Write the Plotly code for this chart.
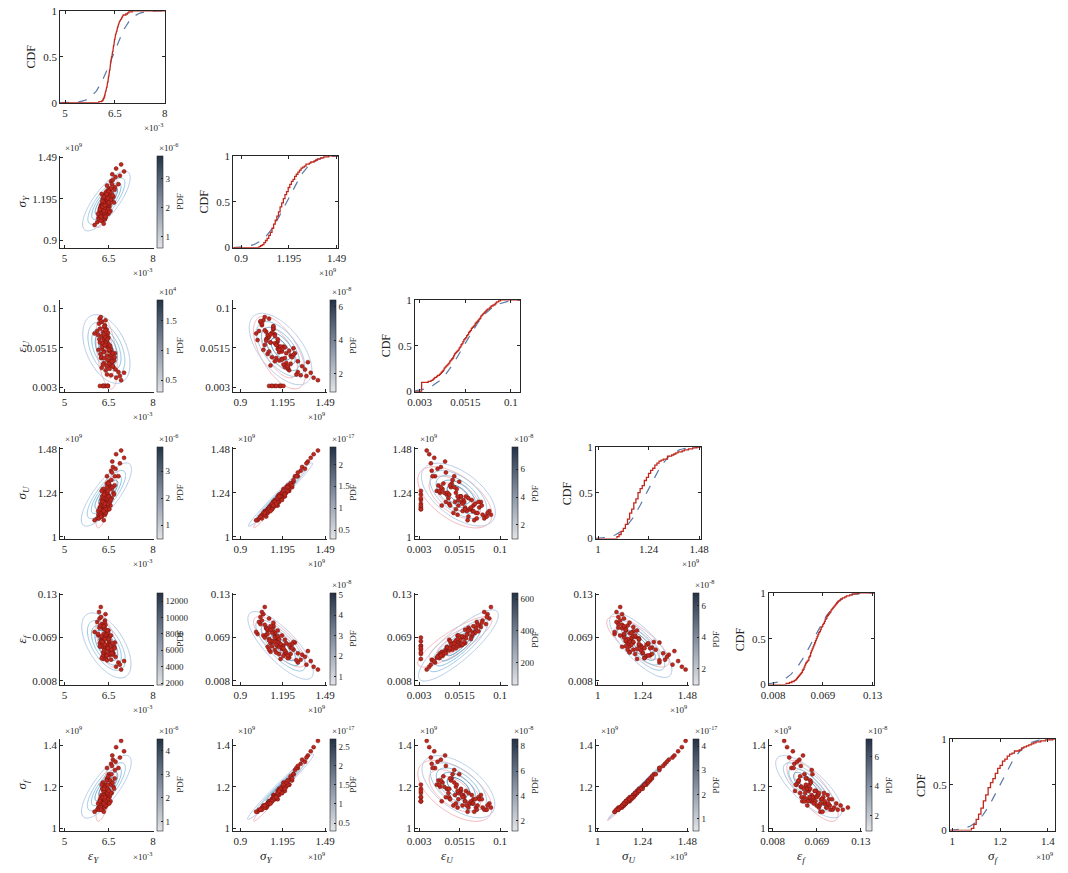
import math
import numpy as np
import plotly.graph_objects as go

W, H = 1068, 873
FONT = "Liberation Serif"
INK = "#262626"

# ---------------- sample data (scaled units) ----------------
eps_Y = [6.31, 6.52, 6.20, 6.44, 6.66, 6.27, 6.38, 6.49, 6.15, 6.58,
         6.35, 6.42, 6.24, 6.71, 6.33, 6.47, 6.56, 6.19, 6.40, 6.62,
         6.29, 6.45, 6.36, 6.11, 6.53, 6.30, 6.83, 6.41, 6.22, 6.50,
         6.37, 6.60, 6.26, 6.46, 6.34, 6.75, 6.18, 6.43, 6.55, 6.28,
         6.39, 6.64, 6.32, 6.48, 6.02, 6.57, 6.25, 6.44, 6.35, 6.68,
         6.21, 6.51, 6.38, 6.30, 6.92, 6.42, 6.17, 6.59, 6.33, 6.47,
         6.26, 6.54, 6.37, 6.73, 6.23, 6.45, 6.31, 6.63, 6.40, 6.14,
         6.49, 6.36, 7.02, 6.28, 6.52, 6.34, 6.46, 6.20, 6.61, 6.39,
         6.57, 6.29, 6.43, 6.70, 6.24, 6.50, 6.33, 6.47, 6.88, 6.37]   # x10^-3
sig_Y = [1.08, 1.14, 1.11, 1.25, 1.21, 1.04, 1.17, 1.09, 1.06, 1.32,
         1.13, 1.20, 1.15, 1.28, 1.02, 1.18, 1.11, 1.10, 1.24, 1.37,
         1.07, 1.14, 1.19, 1.03, 1.23, 1.12, 1.30, 1.16, 1.09, 1.27,
         1.05, 1.19, 1.14, 1.10, 1.22, 1.41, 1.08, 1.13, 1.26, 1.16,
         1.06, 1.33, 1.18, 1.15, 1.01, 1.24, 1.12, 1.29, 1.09, 1.17,
         1.13, 1.21, 1.14, 1.20, 1.44, 1.08, 1.05, 1.27, 1.17, 1.12,
         1.23, 1.16, 1.10, 1.35, 1.07, 1.19, 1.15, 1.22, 1.11, 1.09,
         1.25, 1.13, 1.39, 1.18, 1.10, 1.21, 1.16, 1.12, 1.30, 1.07,
         1.19, 1.14, 1.23, 1.26, 1.04, 1.17, 1.11, 1.20, 1.36, 1.15]   # x10^9
eps_U = [0.071, 0.035, 0.058, 0.042, 0.028, 0.083, 0.005, 0.064, 0.049, 0.018,
         0.077, 0.053, 0.039, 0.045, 0.061, 0.005, 0.030, 0.087, 0.024, 0.034,
         0.055, 0.068, 0.047, 0.072, 0.026, 0.005, 0.022, 0.059, 0.044, 0.051,
         0.079, 0.038, 0.066, 0.005, 0.033, 0.015, 0.062, 0.074, 0.041, 0.050,
         0.085, 0.029, 0.005, 0.056, 0.069, 0.048, 0.040, 0.019, 0.063, 0.036,
         0.075, 0.052, 0.005, 0.031, 0.012, 0.060, 0.081, 0.043, 0.046, 0.070,
         0.027, 0.054, 0.065, 0.025, 0.089, 0.037, 0.005, 0.045, 0.058, 0.067,
         0.032, 0.078, 0.021, 0.053, 0.047, 0.039, 0.062, 0.005, 0.035, 0.073,
         0.050, 0.057, 0.029, 0.040, 0.084, 0.049, 0.068, 0.005, 0.017, 0.055]
sig_U = [1.13, 1.19, 1.16, 1.29, 1.24, 1.11, 1.20, 1.15, 1.12, 1.36,
         1.19, 1.22, 1.18, 1.33, 1.09, 1.23, 1.17, 1.14, 1.25, 1.41,
         1.14, 1.17, 1.24, 1.10, 1.28, 1.15, 1.33, 1.22, 1.13, 1.30,
         1.12, 1.21, 1.20, 1.16, 1.24, 1.45, 1.11, 1.19, 1.27, 1.17,
         1.13, 1.38, 1.21, 1.20, 1.09, 1.26, 1.17, 1.33, 1.15, 1.23,
         1.16, 1.22, 1.18, 1.26, 1.47, 1.14, 1.10, 1.31, 1.19, 1.18,
         1.25, 1.19, 1.16, 1.37, 1.12, 1.24, 1.17, 1.27, 1.15, 1.14,
         1.29, 1.17, 1.43, 1.22, 1.15, 1.23, 1.21, 1.15, 1.35, 1.13,
         1.20, 1.19, 1.27, 1.28, 1.11, 1.22, 1.14, 1.25, 1.40, 1.18]   # x10^9
eps_f = [0.082, 0.052, 0.061, 0.055, 0.047, 0.088, 0.046, 0.079, 0.072, 0.038,
         0.084, 0.058, 0.066, 0.062, 0.074, 0.058, 0.049, 0.096, 0.041, 0.050,
         0.069, 0.075, 0.054, 0.091, 0.044, 0.064, 0.034, 0.068, 0.056, 0.063,
         0.093, 0.053, 0.071, 0.052, 0.048, 0.028, 0.083, 0.078, 0.060, 0.057,
         0.102, 0.045, 0.039, 0.070, 0.077, 0.059, 0.064, 0.037, 0.081, 0.056,
         0.086, 0.066, 0.069, 0.043, 0.024, 0.073, 0.105, 0.052, 0.062, 0.076,
         0.040, 0.071, 0.067, 0.042, 0.112, 0.055, 0.048, 0.061, 0.080, 0.074,
         0.046, 0.090, 0.036, 0.060, 0.065, 0.051, 0.079, 0.057, 0.047, 0.087,
         0.072, 0.063, 0.044, 0.054, 0.098, 0.067, 0.085, 0.054, 0.031, 0.059]
sig_f = [1.10, 1.15, 1.13, 1.24, 1.20, 1.09, 1.17, 1.12, 1.10, 1.31,
         1.16, 1.18, 1.15, 1.28, 1.08, 1.19, 1.13, 1.12, 1.21, 1.35,
         1.11, 1.14, 1.20, 1.09, 1.23, 1.13, 1.29, 1.18, 1.11, 1.26,
         1.10, 1.17, 1.16, 1.13, 1.20, 1.39, 1.10, 1.15, 1.23, 1.14,
         1.11, 1.33, 1.18, 1.16, 1.08, 1.21, 1.14, 1.29, 1.12, 1.19,
         1.14, 1.18, 1.15, 1.22, 1.42, 1.11, 1.09, 1.26, 1.16, 1.14,
         1.21, 1.16, 1.13, 1.32, 1.10, 1.19, 1.15, 1.22, 1.13, 1.12,
         1.25, 1.14, 1.37, 1.19, 1.12, 1.19, 1.17, 1.13, 1.30, 1.11,
         1.17, 1.15, 1.23, 1.24, 1.09, 1.18, 1.12, 1.21, 1.34, 1.15]   # x10^9

var_names = ['<i>ε</i><sub><i>Y</i></sub>', '<i>σ</i><sub><i>Y</i></sub>',
             '<i>ε</i><sub><i>U</i></sub>', '<i>σ</i><sub><i>U</i></sub>',
             '<i>ε</i><sub><i>f</i></sub>', '<i>σ</i><sub><i>f</i></sub>']
var_exp = ['×10<sup>-3</sup>', '×10<sup>9</sup>', '', '×10<sup>9</sup>', '', '×10<sup>9</sup>']
axis_lo = [4.85, 0.85, -0.002, 0.99, 0.003, 0.99]
axis_hi = [8.02, 1.50, 0.110, 1.49, 0.132, 1.43]
tick_vals = [[5, 6.5, 8], [0.9, 1.195, 1.49], [0.003, 0.0515, 0.1],
             [1, 1.24, 1.48], [0.008, 0.069, 0.13], [1, 1.2, 1.4]]
tick_text = [['5', '6.5', '8'], ['0.9', '1.195', '1.49'], ['0.003', '0.0515', '0.1'],
             ['1', '1.24', '1.48'], ['0.008', '0.069', '0.13'], ['1', '1.2', '1.4']]
# fitted (model) marginal parameters, read from the dashed CDFs
model_mean = [6.42, 1.18, 0.050, 1.23, 0.058, 1.20]
model_std = [0.42, 0.11, 0.022, 0.085, 0.023, 0.075]

# colour bars of the joint PDFs, panels in row-major order of the lower triangle
pdf_lo = [0.6, 0.3, 0.9, 0.5, 0.3, 1.0, 1800, 0.6, 60, 1.0, 0.6, 0.3, 1.2, 0.5, 1.0]
pdf_hi = [3.8, 1.85, 6.4, 3.9, 2.4, 7.6, 13000, 5.1, 640, 6.8, 4.5, 2.7, 8.6, 4.3, 7.2]
pdf_exp = ['×10<sup>-6</sup>', '×10<sup>4</sup>', '×10<sup>-8</sup>', '×10<sup>-6</sup>',
           '×10<sup>-17</sup>', '×10<sup>-8</sup>', '', '×10<sup>-8</sup>', '',
           '×10<sup>-8</sup>', '×10<sup>-6</sup>', '×10<sup>-17</sup>', '×10<sup>-8</sup>',
           '×10<sup>-17</sup>', '×10<sup>-8</sup>']
pdf_ticks = [[1, 2, 3], [0.5, 1, 1.5], [2, 4, 6], [1, 2, 3], [0.5, 1, 1.5, 2], [2, 4, 6],
             [2000, 4000, 6000, 8000, 10000, 12000], [1, 2, 3, 4, 5], [200, 400, 600],
             [2, 4, 6], [1, 2, 3, 4], [0.5, 1, 1.5, 2, 2.5], [2, 4, 6, 8], [1, 2, 3, 4], [2, 4, 6]]

# ---------------- layout geometry (pixels) ----------------
col_left = [52, 228, 413, 597, 773, 957]
row_top = [5, 152, 298, 447, 595, 743]
PH, CW, SW, CBX, CBT = 93, 107, 95, 99, 6

data = [np.array(v, dtype=float) for v in (eps_Y, sig_Y, eps_U, sig_U, eps_f, sig_f)]
corr = np.corrcoef(np.vstack(data))

CB_SCALE = [[0, '#e2e4e7'], [0.45, '#8d99aa'], [1, '#243248']]
LINE_SCALE = [[0, '#b3c9e6'], [0.5, '#84c2e0'], [1, '#3f8fbf']]
PINK = [[0, '#f2a3ab'], [1, '#f2a3ab']]

fig = go.Figure()
lay = {}
ann = []


def A(text, x, y, xa='center', ya='middle', size=11, angle=0):
    ann.append(dict(text=text, x=x / W, y=1 - y / H, xref='paper', yref='paper',
                    xanchor=xa, yanchor=ya, showarrow=False, textangle=angle,
                    font=dict(family=FONT, size=size, color=INK)))


def phi(z):
    return 0.5 * (1 + math.erf(z / math.sqrt(2)))


TITLE_Y = 862
k = 0
p = 0
for r in range(6):
    for c in range(r + 1):
        k += 1
        xs = '' if k == 1 else str(k)
        xa, ya = 'x' + xs, 'y' + xs
        left, top = col_left[c], row_top[r]
        diag = (r == c)
        width = CW if diag else SW
        base = dict(ticks='inside', ticklen=3, tickwidth=1, tickcolor=INK, showline=True,
                    linecolor=INK, linewidth=1, mirror='ticks' if diag else False,
                    showgrid=False, zeroline=False,
                    tickfont=dict(family=FONT, size=11, color=INK))
        lay['xaxis' + xs] = dict(base, domain=[left / W, (left + width) / W], anchor=ya,
                                 range=[axis_lo[c], axis_hi[c]], tickmode='array',
                                 tickvals=tick_vals[c], ticktext=tick_text[c])
        bottom = top + PH
        if diag:
            lay['yaxis' + xs] = dict(base, domain=[1 - bottom / H, 1 - top / H], anchor=xa,
                                     range=[0, 1], tickmode='array', tickvals=[0, 0.5, 1],
                                     ticktext=['0', '0.5', '1'])
            x = np.sort(data[c])
            n = len(x)
            sx = [axis_lo[c]]
            sy = [0]
            for i, v in enumerate(x):
                sx += [v, v]
                sy += [i / n, (i + 1) / n]
            sx.append(axis_hi[c])
            sy.append(1)
            g = np.linspace(axis_lo[c], axis_hi[c], 200)
            fy = [phi((v - model_mean[c]) / model_std[c]) for v in g]
            fig.add_trace(go.Scatter(x=g, y=fy, mode='lines', xaxis=xa, yaxis=ya,
                                     line=dict(color='#5b7aa6', width=1.2, dash='dash'),
                                     hoverinfo='skip', showlegend=False))
            fig.add_trace(go.Scatter(x=sx, y=sy, mode='lines', xaxis=xa, yaxis=ya,
                                     line=dict(color='#c0281e', width=1.3),
                                     hoverinfo='skip', showlegend=False))
            A('CDF', left - 30, top + PH / 2, size=12, angle=-90)
            if var_exp[c]:
                yy = TITLE_Y if r == 5 else bottom + 25
                A(var_exp[c], left + width, yy, xa='right', size=9)
            if r == 5:
                A(var_names[c], left + width / 2 - 10, TITLE_Y, size=13)
        else:
            lay['yaxis' + xs] = dict(base, domain=[1 - bottom / H, 1 - top / H], anchor=xa,
                                     range=[axis_lo[r], axis_hi[r]], tickmode='array',
                                     tickvals=tick_vals[r], ticktext=tick_text[r])
            gx = np.linspace(axis_lo[c], axis_hi[c], 90)
            gy = np.linspace(axis_lo[r], axis_hi[r], 90)
            X, Y = np.meshgrid(gx, gy)
            rho = corr[r, c]
            u = (X - model_mean[c]) / model_std[c]
            v = (Y - model_mean[r]) / model_std[r]
            Z = pdf_hi[p] * np.exp(-0.5 * (u * u - 2 * rho * u * v + v * v) / (1 - rho * rho))
            du = (X - data[c].mean()) / data[c].std()
            dv = (Y - data[r].mean()) / data[r].std()
            Zd = np.exp(-0.5 * (du * du - 2 * rho * du * dv + dv * dv) / (1 - rho * rho))
            lo, hi = pdf_lo[p], pdf_hi[p]
            fig.add_trace(go.Contour(x=gx, y=gy, z=Zd, xaxis=xa, yaxis=ya, showscale=False,
                                     contours=dict(coloring='lines', start=0.15, end=0.65, size=0.25),
                                     colorscale=PINK, line=dict(width=0.8), hoverinfo='skip'))
            fig.add_trace(go.Contour(x=gx, y=gy, z=Z, xaxis=xa, yaxis=ya, showscale=False,
                                     zmin=lo, zmax=hi, zauto=False,
                                     contours=dict(coloring='lines', start=lo, end=hi * 0.97,
                                                   size=(hi - lo) / 5),
                                     colorscale=LINE_SCALE, line=dict(width=1), hoverinfo='skip'))
            fig.add_trace(go.Scatter(x=data[c], y=data[r], mode='markers', xaxis=xa, yaxis=ya,
                                     marker=dict(size=4, color='#c0281e',
                                                 line=dict(width=0.5, color='#6e1510')),
                                     hoverinfo='skip', showlegend=False))
            fig.add_trace(go.Scatter(
                x=[model_mean[c]], y=[model_mean[r]], mode='markers', xaxis=xa, yaxis=ya,
                hoverinfo='skip', showlegend=False,
                marker=dict(size=1, opacity=0, color=[lo], cmin=lo, cmax=hi,
                            colorscale=CB_SCALE, showscale=True,
                            colorbar=dict(x=(left + CBX) / W, xanchor='left', xref='paper',
                                          y=1 - top / H, yanchor='top', yref='paper',
                                          len=PH / H, lenmode='fraction', thickness=CBT,
                                          thicknessmode='pixels', xpad=0, ypad=0,
                                          outlinewidth=0.6, outlinecolor=INK,
                                          tickmode='array', tickvals=pdf_ticks[p],
                                          ticktext=['%g' % t for t in pdf_ticks[p]],
                                          ticks='inside', ticklen=2, tickcolor=INK,
                                          tickfont=dict(family=FONT, size=9, color=INK)))))
            if pdf_exp[p]:
                A(pdf_exp[p], left + CBX, top - 1, xa='left', ya='bottom', size=9)
            A('PDF', left + CBX + CBT + 17, top + PH / 2, size=9, angle=-90)
            if var_exp[r]:
                A(var_exp[r], left + 3, top - 1, xa='left', ya='bottom', size=9)
            if var_exp[c]:
                yy = TITLE_Y if r == 5 else bottom + 25
                A(var_exp[c], left + width, yy, xa='right', size=9)
            if r == 5:
                A(var_names[c], left + width / 2 - 14, TITLE_Y, size=13)
            if c == 0:
                A(var_names[r], 14, top + PH / 2, size=13, angle=-90)
            p += 1

fig.update_layout(width=W, height=H, margin=dict(l=0, r=0, t=0, b=0),
                  paper_bgcolor='white', plot_bgcolor='white', showlegend=False,
                  annotations=ann, **lay)
fig.write_html("out.html")
